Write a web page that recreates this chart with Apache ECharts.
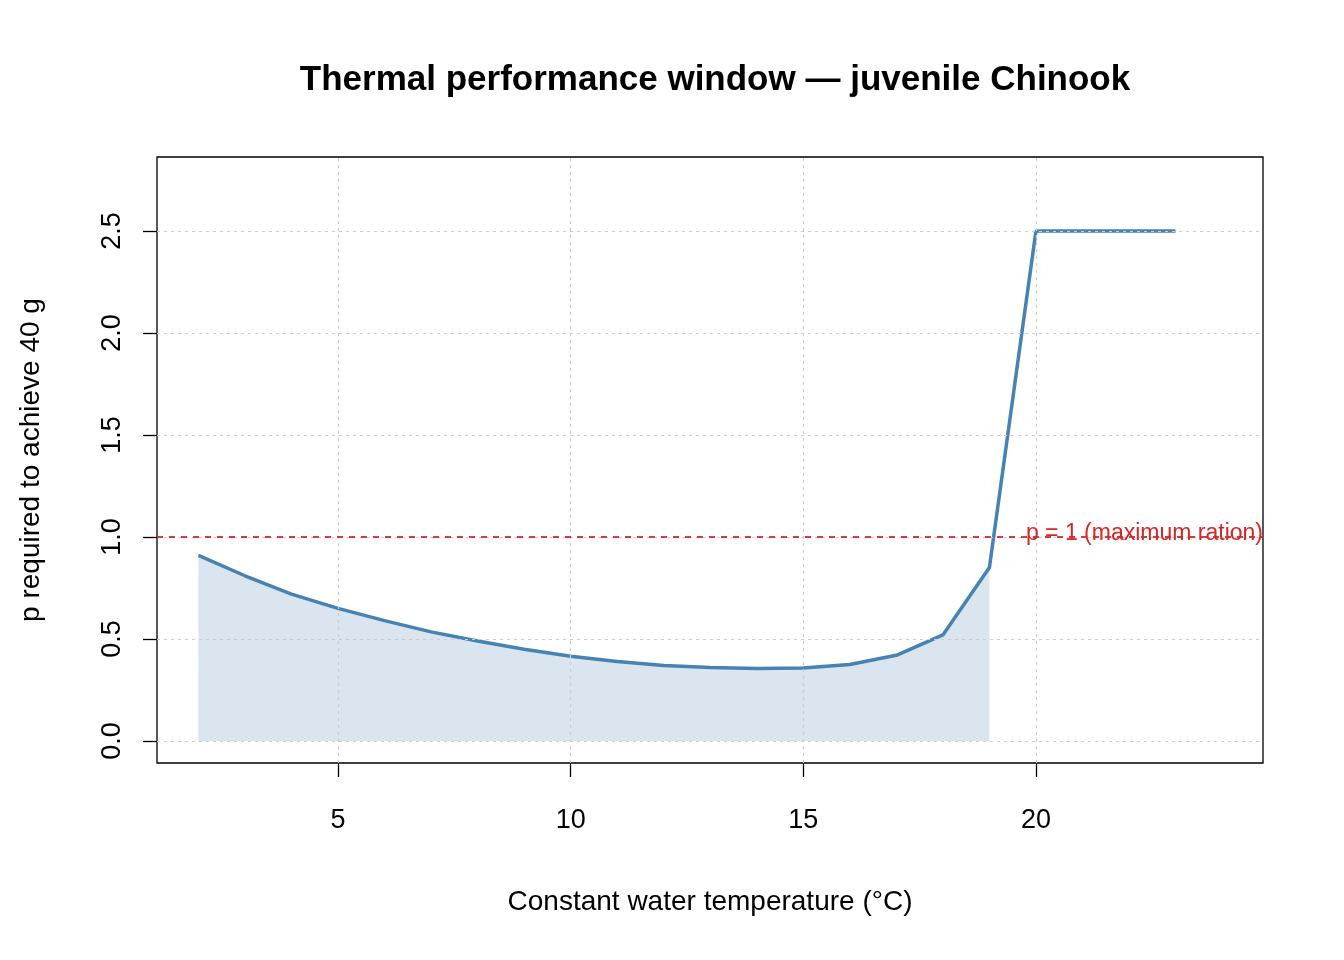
<!DOCTYPE html>
<html><head><meta charset="utf-8">
<script src="https://cdn.jsdelivr.net/npm/echarts@6/dist/echarts.min.js"></script>
<style>html,body{margin:0;padding:0;background:#fff}#c{width:1344px;height:960px}</style>
</head><body><div id="c"></div>
<script>
const temps = [2,3,4,5,6,7,8,9,10,11,12,13,14,15,16,17,18,19,20,21,22,23];
const pvals = [0.91,0.81,0.72,0.65,0.59,0.535,0.49,0.45,0.415,0.39,0.37,0.36,0.355,0.358,0.375,0.42,0.52,0.85,2.5,2.5,2.5,2.5];
const feasibleMax = 19;
const xTicks = [5,10,15,20];
const yTicks = [0,0.5,1,1.5,2,2.5];
const refP = 1;

const lineData = temps.map((t,i)=>[t,pvals[i]]);
const areaData = lineData.filter(d=>d[0]<=feasibleMax);
const font = 'Liberation Sans, Arial, sans-serif';
const gridStyle = {color:'#cccccc', type:[3,4], width:1.2};
const gridLines = xTicks.map(v=>({xAxis:v})).concat(yTicks.map(v=>({yAxis:v})));

const chart = echarts.init(document.getElementById('c'));
chart.setOption({
  animation:false,
  title:{text:'Thermal performance window \u2014 juvenile Chinook', left:710, top:58, textAlign:'center',
    textStyle:{fontFamily:font,fontSize:35,fontWeight:'bold',color:'#000'}},
  grid:{left:157,right:81,top:157,bottom:197,show:true,borderColor:'#000',borderWidth:1.3,backgroundColor:'transparent'},
  xAxis:{type:'value',min:1.11,max:24.88,
    name:'Constant water temperature (\u00b0C)',nameLocation:'middle',nameGap:125,
    nameTextStyle:{fontFamily:font,fontSize:28,color:'#000'},
    axisLine:{show:false,onZero:false},splitLine:{show:false},
    axisTick:{show:true,customValues:xTicks,length:14,lineStyle:{color:'#000',width:1.3}},
    axisLabel:{customValues:xTicks,fontFamily:font,fontSize:27,color:'#000',margin:44}},
  yAxis:{type:'value',min:-0.108,max:2.863,
    name:'p required to achieve 40 g',nameLocation:'middle',nameGap:112,
    nameTextStyle:{fontFamily:font,fontSize:28,color:'#000'},
    axisLine:{show:false,onZero:false},splitLine:{show:false},
    axisTick:{show:true,customValues:yTicks,length:14,lineStyle:{color:'#000',width:1.3}},
    axisLabel:{customValues:yTicks,rotate:90,fontFamily:font,fontSize:27,color:'#000',margin:44,
      verticalAlign:'middle',align:'center',formatter:v=>v.toFixed(1)}},
  series:[
    {type:'line',data:[],silent:true,
      markLine:{symbol:'none',silent:true,label:{show:false},lineStyle:gridStyle,data:gridLines}},
    {type:'line',data:areaData,symbol:'none',lineStyle:{width:0},
      areaStyle:{color:'#dae5ef',opacity:1},z:1},
    {type:'line',data:lineData,symbol:'none',lineStyle:{color:'#4682b4',width:3.5},z:3,
      markLine:{symbol:'none',silent:true,
        lineStyle:{color:'#d62728',type:[6,6],width:1.8},
        label:{show:true,position:'insideEndTop',formatter:'p = 1 (maximum ration)',
          fontFamily:font,fontSize:23,color:'#d62728',distance:[0,-8]},
        data:[{yAxis:refP}]}}
  ]
});
</script></body></html>
